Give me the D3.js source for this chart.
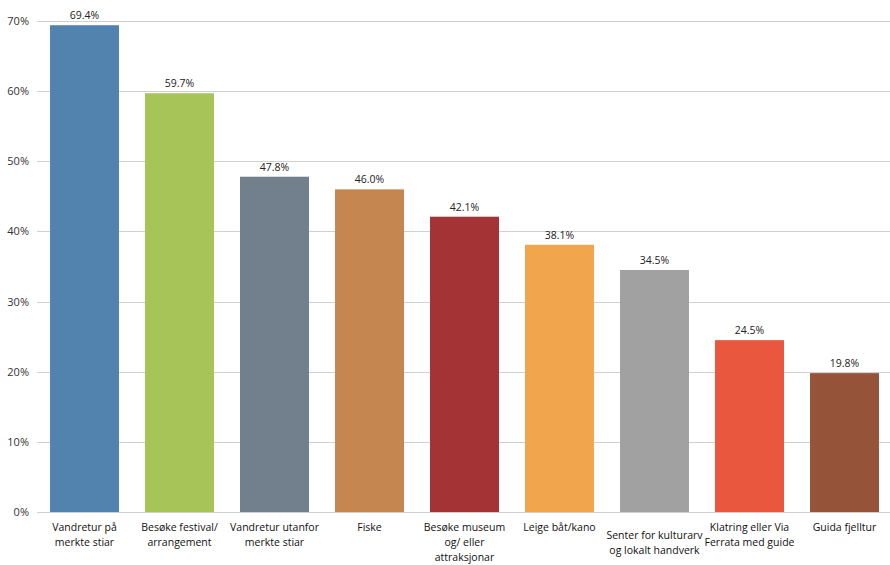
<!DOCTYPE html>
<html><head><meta charset="utf-8">
<script src="https://cdn.jsdelivr.net/npm/d3@7"></script>
<style>
html,body{margin:0;padding:0;background:#fff;}
svg{display:block;font-family:"Open Sans","Noto Sans",sans-serif;}
</style></head>
<body><svg id="c" width="890" height="565"></svg>
<script>
const categories = [
  ["Vandretur på","merkte stiar"],
  ["Besøke festival/","arrangement"],
  ["Vandretur utanfor","merkte stiar"],
  ["Fiske"],
  ["Besøke museum","og/ eller","attraksjonar"],
  ["Leige båt/kano"],
  ["Senter for kulturarv","og lokalt handverk"],
  ["Klatring eller Via","Ferrata med guide"],
  ["Guida fjelltur"]
];
const values = [69.4, 59.7, 47.8, 46.0, 42.1, 38.1, 34.5, 24.5, 19.8];
const colors = ["#5282AE","#A6C458","#727F8C","#C5864F","#A33335","#F1A54C","#A1A1A1","#EA573F","#955439"];
const yTicks = [0,10,20,30,40,50,60,70];

(function(){
const svg = d3.select("#c");
const pl = 37, pr = 892, pt = 21, pb = 512;
const x = d3.scaleBand().domain(d3.range(categories.length)).range([pl,pr]).paddingInner(0.274).paddingOuter(0.137);
const y = d3.scaleLinear().domain([0,70]).range([pb,pt]);

svg.append("g").selectAll("line").data(yTicks).join("line")
  .attr("x1",pl).attr("x2",890)
  .attr("y1",d=>Math.round(y(d))+0.5).attr("y2",d=>Math.round(y(d))+0.5)
  .attr("stroke","#D0D0D0").attr("stroke-width",1);

const yAxis = d3.axisLeft(y).tickValues(yTicks).tickFormat(d=>d+"%").tickSize(0).tickPadding(8);
const ya = svg.append("g").attr("transform",`translate(${pl},0)`).call(yAxis);
ya.select(".domain").remove();
ya.selectAll("text").attr("font-size",11).attr("fill","#333").attr("font-family","'Open Sans',sans-serif");

svg.append("g").selectAll("rect").data(values).join("rect")
  .attr("x",(d,i)=>x(i)).attr("width",x.bandwidth())
  .attr("y",d=>y(d)).attr("height",d=>y(0)-y(d))
  .attr("fill",(d,i)=>colors[i]);

svg.append("g").selectAll("text").data(values).join("text")
  .attr("x",(d,i)=>x(i)+x.bandwidth()/2).attr("y",d=>y(d)-6)
  .attr("text-anchor","middle").attr("font-size",10.5).attr("fill","#222")
  .text(d=>d.toFixed(1)+"%");

const cg = svg.append("g");
categories.forEach((lines,i)=>{
  const t = cg.append("text").attr("text-anchor","middle").attr("font-size",10.5).attr("fill","#111")
    .attr("transform",`translate(${x(i)+x.bandwidth()/2},${pb+19 + (i===6?8:0)})`);
  lines.forEach((l,j)=>t.append("tspan").attr("x",0).attr("dy",j===0?0:15).text(l));
});
})();
</script></body></html>
